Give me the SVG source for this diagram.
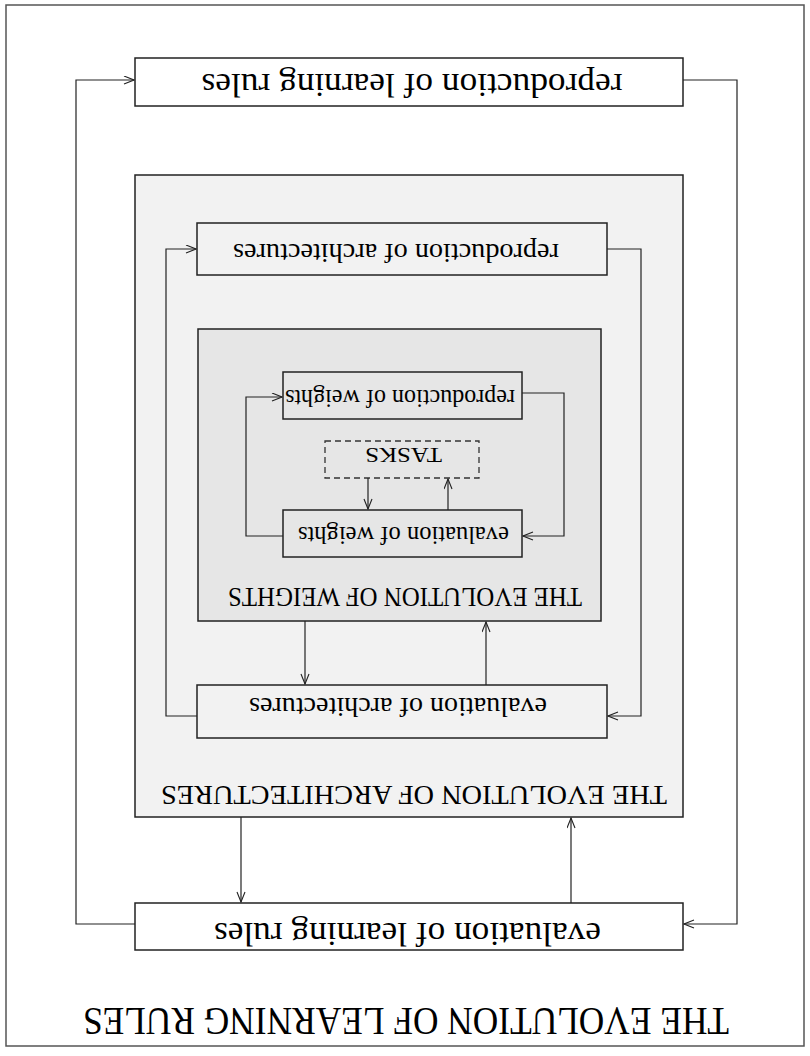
<svg xmlns="http://www.w3.org/2000/svg" width="810" height="1056" viewBox="0 0 810 1056">
<style>
.box{stroke:#222;stroke-width:1.5}
.white{fill:#fff}
.l1{fill:#f2f2f2}
.l2{fill:#e6e6e6}
.dash{fill:#e6e6e6;stroke:#333;stroke-width:1.3;stroke-dasharray:6,4}
.t{font-family:"Liberation Serif","Times New Roman",serif;fill:#000;text-anchor:middle}
.c{fill:none;stroke:#222;stroke-width:1.2}
</style>
<defs>
<marker id="arr" markerUnits="userSpaceOnUse" markerWidth="12" markerHeight="10" refX="11" refY="4.5" orient="auto">
<path d="M1,0.5 L11,4.5 L1,8.5" fill="none" stroke="#222" stroke-width="1.1"/>
</marker>
</defs>
<rect x="0" y="0" width="810" height="1056" fill="#fff"/>
<g id="frame">
<rect x="6" y="5" width="798" height="1041" fill="#fff" stroke="#555" stroke-width="1.5"/>
<text class="t" x="406" y="1008" font-size="39" textLength="646" lengthAdjust="spacingAndGlyphs" transform="rotate(180 406 1008)">THE EVOLUTION OF LEARNING RULES</text>
</g>
<g id="repro-rules">
<rect class="box white" x="135" y="58" width="548" height="48"/>
<text class="t" x="412" y="74" font-size="34" textLength="421" lengthAdjust="spacingAndGlyphs" transform="rotate(180 412 74)">reproduction of learning rules</text>
</g>
<g id="arch-container">
<rect class="box l1" x="135" y="175" width="548" height="642"/>
<text class="t" x="414" y="786" font-size="28" textLength="506" lengthAdjust="spacingAndGlyphs" transform="rotate(180 414 786)">THE EVOLUTION OF ARCHITECTURES</text>
</g>
<g id="repro-arch">
<rect class="box l1" x="197" y="223" width="410" height="52"/>
<text class="t" x="396" y="244" font-size="28" textLength="326" lengthAdjust="spacingAndGlyphs" transform="rotate(180 396 244)">reproduction of architectures</text>
</g>
<g id="weights-container">
<rect class="box l2" x="198" y="329" width="403" height="292"/>
<text class="t" x="405" y="588" font-size="27" textLength="354" lengthAdjust="spacingAndGlyphs" transform="rotate(180 405 588)">THE EVOLUTION OF WEIGHTS</text>
</g>
<g id="repro-weights">
<rect class="box l2" x="283" y="372" width="239" height="47"/>
<text class="t" x="400" y="390" font-size="25" textLength="230" lengthAdjust="spacingAndGlyphs" transform="rotate(180 400 390)">reproduction of weights</text>
</g>
<g id="tasks">
<rect class="dash" x="325" y="441" width="154" height="37"/>
<text class="t" x="403.5" y="448" font-size="22" textLength="77" lengthAdjust="spacingAndGlyphs" transform="rotate(180 403.5 448)">TASKS</text>
</g>
<g id="eval-weights">
<rect class="box l2" x="283" y="510" width="239" height="47"/>
<text class="t" x="403.5" y="527" font-size="25" textLength="211" lengthAdjust="spacingAndGlyphs" transform="rotate(180 403.5 527)">evaluation of weights</text>
</g>
<g id="eval-arch">
<rect class="box l1" x="197" y="685" width="410" height="53"/>
<text class="t" x="398" y="698" font-size="27" textLength="298" lengthAdjust="spacingAndGlyphs" transform="rotate(180 398 698)">evaluation of architectures</text>
</g>
<g id="eval-rules">
<rect class="box white" x="135" y="903" width="548" height="47"/>
<text class="t" x="407.5" y="923" font-size="33" textLength="387" lengthAdjust="spacingAndGlyphs" transform="rotate(180 407.5 923)">evaluation of learning rules</text>
</g>
<g id="connectors">
<path class="c" d="M683,80 H737 V924 H684" marker-end="url(#arr)"/>
<path class="c" d="M135,924 H76 V80 H134" marker-end="url(#arr)"/>
<path class="c" d="M241,817 V902" marker-end="url(#arr)"/>
<path class="c" d="M571,903 V818" marker-end="url(#arr)"/>
<path class="c" d="M607,249 H641 V716 H608" marker-end="url(#arr)"/>
<path class="c" d="M197,716 H166 V249 H196" marker-end="url(#arr)"/>
<path class="c" d="M305,621 V684" marker-end="url(#arr)"/>
<path class="c" d="M486,685 V622" marker-end="url(#arr)"/>
<path class="c" d="M522,393 H564 V536 H523" marker-end="url(#arr)"/>
<path class="c" d="M283,536 H246 V397 H282" marker-end="url(#arr)"/>
<path class="c" d="M368,478 V509" marker-end="url(#arr)"/>
<path class="c" d="M448,510 V479" marker-end="url(#arr)"/>
</g>
</svg>
